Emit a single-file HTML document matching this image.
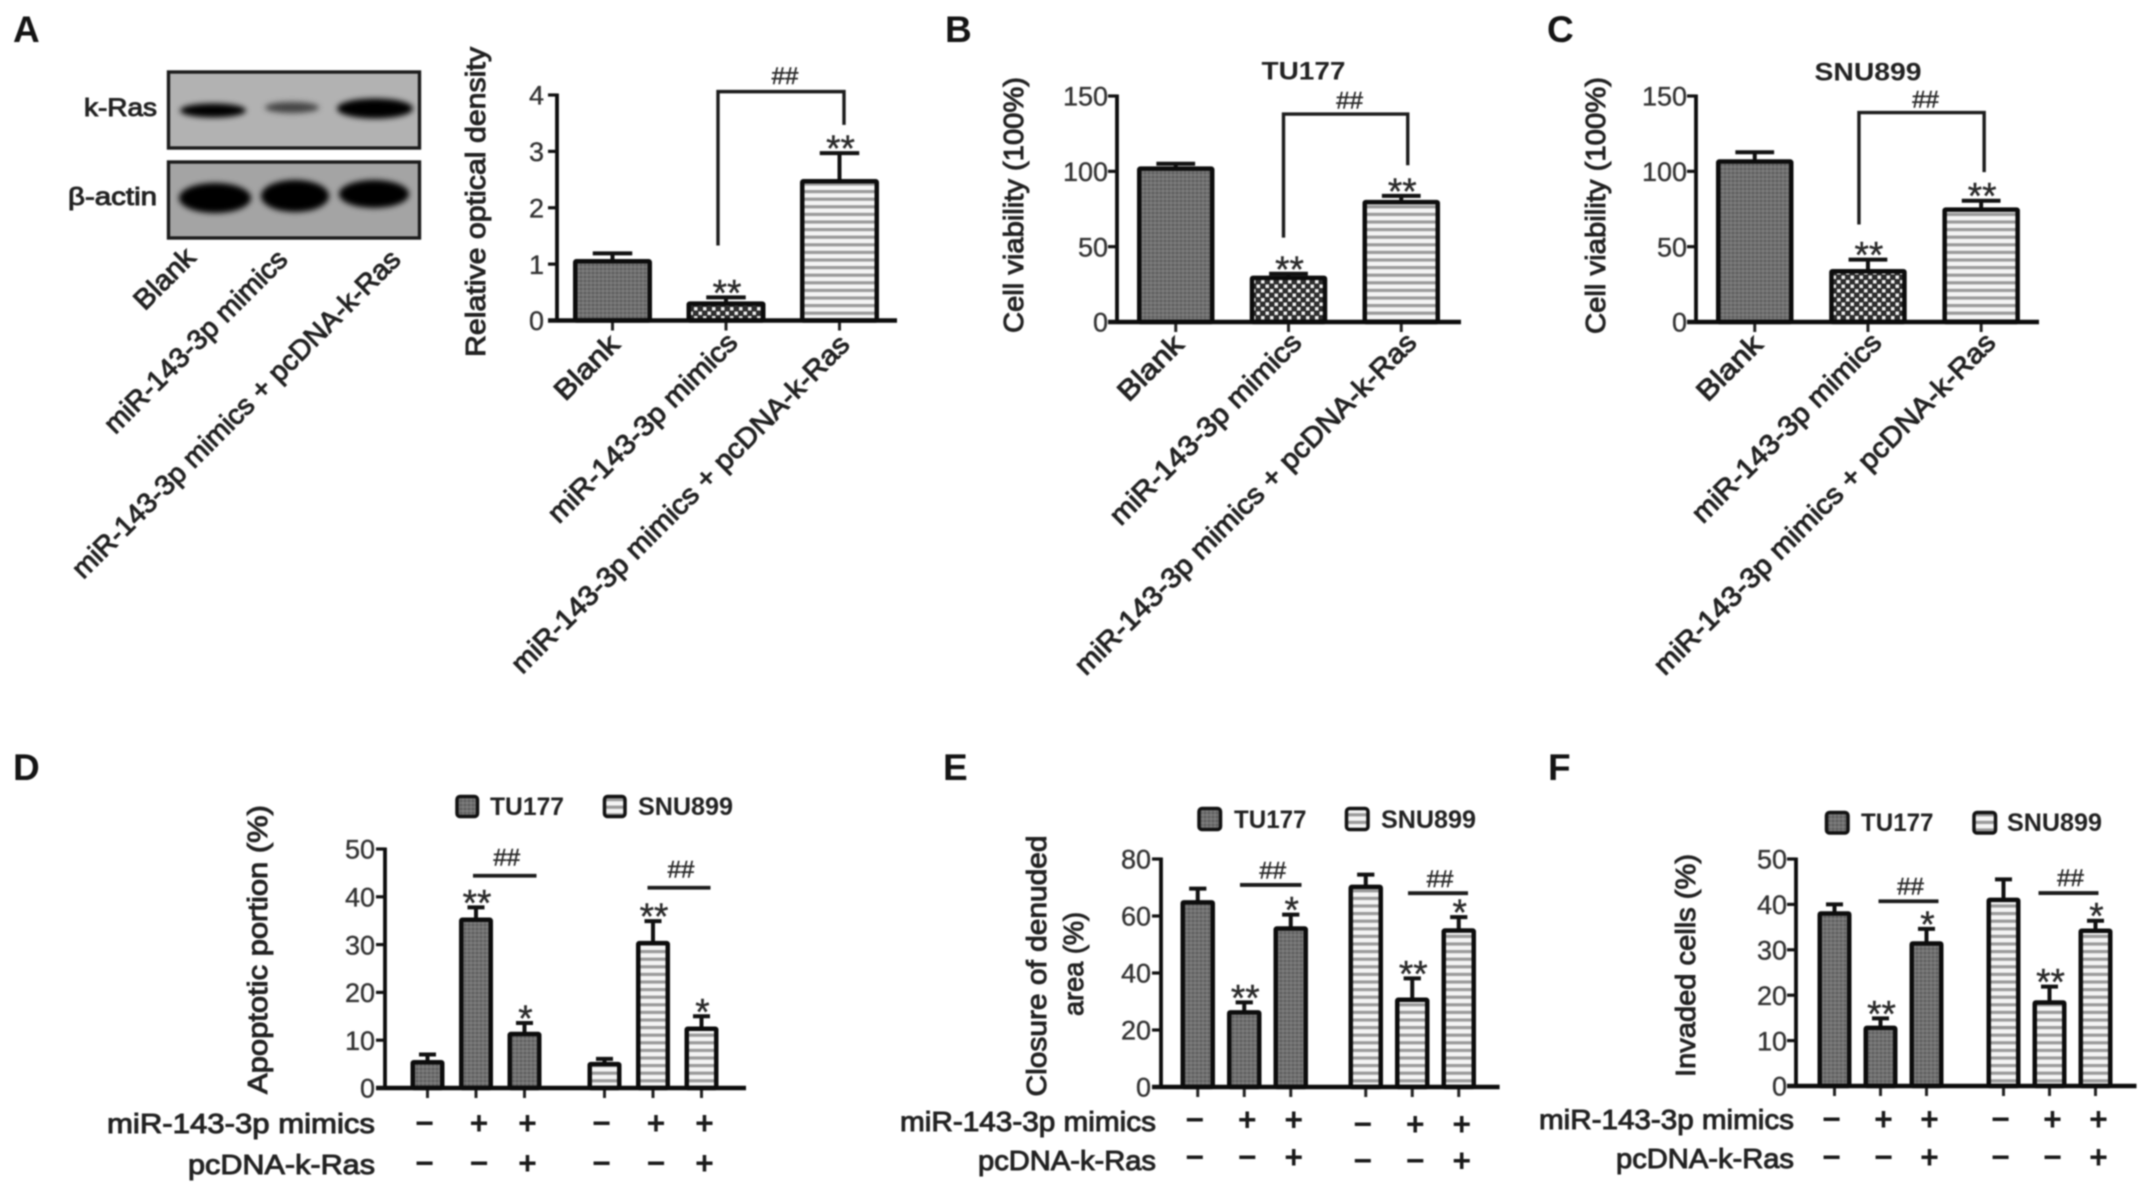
<!DOCTYPE html>
<html lang="en">
<head>
<meta charset="utf-8">
<title>k-Ras rescue figure, panels A to F</title>
<style>
html,body{margin:0;padding:0;background:#fff;}
#figure{display:block;width:2150px;height:1193px;filter:blur(0.8px);font-family:"Liberation Sans",Arial,sans-serif;}
text{font-family:"Liberation Sans",Arial,sans-serif;fill:#222;}
.letter{font-size:37px;font-weight:bold;fill:#141414;}
.lab{font-size:28px;stroke:#222;stroke-width:0.95px;}
.title{font-size:25px;font-weight:bold;}
.tick{font-size:27px;fill:#333;stroke:#333;stroke-width:0.35px;}
.star{font-size:37px;fill:#2a2a2a;stroke:#2a2a2a;stroke-width:0.4px;}
.hash{font-size:24px;fill:#2a2a2a;stroke:#2a2a2a;stroke-width:0.5px;}
.sign{font-size:32px;font-weight:bold;fill:#1a1a1a;}
</style>
</head>
<body>
<svg id="figure" xmlns="http://www.w3.org/2000/svg" width="2150" height="1193" viewBox="0 0 2150 1193">
<defs>
<pattern id="dense" width="4" height="4" patternUnits="userSpaceOnUse">
<rect width="4" height="4" fill="#707070"/><rect width="2" height="2" fill="#5c5c5c"/><rect x="2" y="2" width="2" height="2" fill="#808080"/>
</pattern>
<pattern id="coarse" width="9" height="9" patternUnits="userSpaceOnUse">
<rect width="9" height="9" fill="#2e2e2e"/><rect x="1" y="1" width="3.5" height="3.5" fill="#f2f2f2"/><rect x="5.5" y="5.5" width="3.5" height="3.5" fill="#f2f2f2"/>
</pattern>
<pattern id="stripes" width="8" height="7.6" patternUnits="userSpaceOnUse">
<rect width="8" height="7.6" fill="#f4f4f4"/><rect y="0" width="8" height="3.2" fill="#9a9a9a"/>
</pattern>
<filter id="band-blur" x="-30%" y="-60%" width="160%" height="220%"><feGaussianBlur stdDeviation="3"/></filter>
<clipPath id="blot-top-clip"><rect x="167" y="71" width="254" height="78"/></clipPath>
<clipPath id="blot-bottom-clip"><rect x="167" y="161" width="254" height="78"/></clipPath>
</defs>

<text class="letter" x="13" y="42">A</text>
<text class="letter" x="945" y="42">B</text>
<text class="letter" x="1547" y="42">C</text>
<text class="letter" x="13" y="780">D</text>
<text class="letter" x="943" y="780">E</text>
<text class="letter" x="1548" y="780">F</text>

<g>
<g clip-path="url(#blot-top-clip)">
<rect x="167" y="71" width="254" height="78" fill="#b2b2b2"/>
<ellipse cx="213" cy="110.5" rx="33" ry="7" fill="#000" filter="url(#band-blur)"/>
<ellipse cx="292" cy="107.5" rx="27" ry="5.5" fill="#444" filter="url(#band-blur)"/>
<ellipse cx="375" cy="108.5" rx="38" ry="10" fill="#000" filter="url(#band-blur)"/>
</g>
<rect x="168.5" y="72" width="251" height="76" fill="none" stroke="#1c1c1c" stroke-width="3.4"/>
<g clip-path="url(#blot-bottom-clip)">
<rect x="167" y="161" width="254" height="78" fill="#a4a4a4"/>
<ellipse cx="215" cy="198" rx="36" ry="15" fill="#000" filter="url(#band-blur)"/>
<ellipse cx="295" cy="196" rx="34" ry="16" fill="#000" filter="url(#band-blur)"/>
<ellipse cx="374" cy="194" rx="35" ry="14" fill="#000" filter="url(#band-blur)"/>
</g>
<rect x="168.5" y="162" width="251" height="76" fill="none" stroke="#1c1c1c" stroke-width="3.4"/>
<text class="lab" x="157" y="107" dy=".36em" text-anchor="end" style="font-size:25px" textLength="73" lengthAdjust="spacingAndGlyphs">k-Ras</text>
<text class="lab" x="157" y="196" dy=".36em" text-anchor="end" style="font-size:25px" textLength="89" lengthAdjust="spacingAndGlyphs">β-actin</text>
<text class="lab" transform="translate(190,252) rotate(-45)" dy=".36em" text-anchor="end" textLength="74" lengthAdjust="spacingAndGlyphs">Blank</text>
<text class="lab" transform="translate(282,254) rotate(-45)" dy=".36em" text-anchor="end" textLength="246" lengthAdjust="spacingAndGlyphs">miR-143-3p mimics</text>
<text class="lab" transform="translate(395,254) rotate(-45)" dy=".36em" text-anchor="end" textLength="451" lengthAdjust="spacingAndGlyphs">miR-143-3p mimics + pcDNA-k-Ras</text>
</g>

<g>
<text class="lab" transform="translate(475,202) rotate(-90)" dy=".36em" text-anchor="middle" textLength="310" lengthAdjust="spacingAndGlyphs">Relative optical density</text>
<text class="lab" transform="translate(614,339) rotate(-45)" dy=".36em" text-anchor="end" textLength="79" lengthAdjust="spacingAndGlyphs">Blank</text>
<text class="lab" transform="translate(732,337) rotate(-45)" dy=".36em" text-anchor="end" textLength="255" lengthAdjust="spacingAndGlyphs">miR-143-3p mimics</text>
<text class="lab" transform="translate(844,339) rotate(-45)" dy=".36em" text-anchor="end" textLength="465" lengthAdjust="spacingAndGlyphs">miR-143-3p mimics + pcDNA-k-Ras</text>
</g>

<g>
<text class="title" x="1303.5" y="70.5" dy=".36em" text-anchor="middle" textLength="84" lengthAdjust="spacingAndGlyphs">TU177</text>
<text class="lab" transform="translate(1013,205) rotate(-90)" dy=".36em" text-anchor="middle" textLength="256" lengthAdjust="spacingAndGlyphs">Cell viability (100%)</text>
<text class="lab" transform="translate(1178,339) rotate(-45)" dy=".36em" text-anchor="end" textLength="80" lengthAdjust="spacingAndGlyphs">Blank</text>
<text class="lab" transform="translate(1296,337) rotate(-45)" dy=".36em" text-anchor="end" textLength="258" lengthAdjust="spacingAndGlyphs">miR-143-3p mimics</text>
<text class="lab" transform="translate(1411,337) rotate(-45)" dy=".36em" text-anchor="end" textLength="470" lengthAdjust="spacingAndGlyphs">miR-143-3p mimics + pcDNA-k-Ras</text>
</g>

<g>
<text class="title" x="1868" y="71.4" dy=".36em" text-anchor="middle" textLength="107" lengthAdjust="spacingAndGlyphs">SNU899</text>
<text class="lab" transform="translate(1595,205.5) rotate(-90)" dy=".36em" text-anchor="middle" textLength="257" lengthAdjust="spacingAndGlyphs">Cell viability (100%)</text>
<text class="lab" transform="translate(1757,339) rotate(-45)" dy=".36em" text-anchor="end" textLength="80" lengthAdjust="spacingAndGlyphs">Blank</text>
<text class="lab" transform="translate(1876,337) rotate(-45)" dy=".36em" text-anchor="end" textLength="255" lengthAdjust="spacingAndGlyphs">miR-143-3p mimics</text>
<text class="lab" transform="translate(1990,337) rotate(-45)" dy=".36em" text-anchor="end" textLength="470" lengthAdjust="spacingAndGlyphs">miR-143-3p mimics + pcDNA-k-Ras</text>
</g>

<g>
<text class="lab" transform="translate(257,949.5) rotate(-90)" dy=".36em" text-anchor="middle" textLength="289" lengthAdjust="spacingAndGlyphs">Apoptotic portion (%)</text>
<text class="lab" x="375" y="1123" dy=".36em" text-anchor="end" textLength="268" lengthAdjust="spacingAndGlyphs">miR-143-3p mimics</text>
<text class="lab" x="375" y="1164" dy=".36em" text-anchor="end" textLength="187" lengthAdjust="spacingAndGlyphs">pcDNA-k-Ras</text>
<g>
<rect x="457" y="796.5" width="20.5" height="20" rx="3" fill="url(#dense)" stroke="#111" stroke-width="3.5"/>
<text class="title" x="490" y="806" dy=".36em" textLength="74" lengthAdjust="spacingAndGlyphs">TU177</text>
<rect x="604.5" y="796.5" width="20.5" height="20" rx="3" fill="url(#stripes)" stroke="#111" stroke-width="3.5"/>
<text class="title" x="638" y="806" dy=".36em" textLength="95" lengthAdjust="spacingAndGlyphs">SNU899</text>
</g>
</g>

<g>
<text class="lab" transform="translate(1036,966) rotate(-90)" dy=".36em" text-anchor="middle" textLength="261" lengthAdjust="spacingAndGlyphs">Closure of denuded</text>
<text class="lab" transform="translate(1073,964) rotate(-90)" dy=".36em" text-anchor="middle" textLength="104" lengthAdjust="spacingAndGlyphs">area (%)</text>
<text class="lab" x="1156" y="1120.7" dy=".36em" text-anchor="end" textLength="256" lengthAdjust="spacingAndGlyphs">miR-143-3p mimics</text>
<text class="lab" x="1156" y="1160" dy=".36em" text-anchor="end" textLength="178" lengthAdjust="spacingAndGlyphs">pcDNA-k-Ras</text>
<g>
<rect x="1199" y="808.5" width="21.5" height="21" rx="3" fill="url(#dense)" stroke="#111" stroke-width="3.5"/>
<text class="title" x="1234" y="819" dy=".36em" textLength="72.5" lengthAdjust="spacingAndGlyphs">TU177</text>
<rect x="1346.5" y="808.5" width="21.5" height="21" rx="3" fill="url(#stripes)" stroke="#111" stroke-width="3.5"/>
<text class="title" x="1381" y="819" dy=".36em" textLength="95" lengthAdjust="spacingAndGlyphs">SNU899</text>
</g>
</g>

<g>
<text class="lab" transform="translate(1684.7,965.5) rotate(-90)" dy=".36em" text-anchor="middle" textLength="223" lengthAdjust="spacingAndGlyphs">Invaded cells (%)</text>
<text class="lab" x="1794" y="1119" dy=".36em" text-anchor="end" textLength="255" lengthAdjust="spacingAndGlyphs">miR-143-3p mimics</text>
<text class="lab" x="1794" y="1158" dy=".36em" text-anchor="end" textLength="178" lengthAdjust="spacingAndGlyphs">pcDNA-k-Ras</text>
<g>
<rect x="1826.5" y="812.5" width="21.5" height="20.5" rx="3" fill="url(#dense)" stroke="#111" stroke-width="3.5"/>
<text class="title" x="1861" y="822" dy=".36em" textLength="72.5" lengthAdjust="spacingAndGlyphs">TU177</text>
<rect x="1974" y="812.5" width="21.5" height="20.5" rx="3" fill="url(#stripes)" stroke="#111" stroke-width="3.5"/>
<text class="title" x="2007" y="822" dy=".36em" textLength="95" lengthAdjust="spacingAndGlyphs">SNU899</text>
</g>
</g>

<g id="charts"></g>
</svg>

<script>
// ---- chart values ----
const panelACategories = ['Blank', 'miR-143-3p mimics', 'miR-143-3p mimics + pcDNA-k-Ras'];
const panelAValues = [1.05, 0.30, 2.47];
const panelAErrorTops = [1.19, 0.41, 2.97];
const panelAStars = ['', '**', '**'];
const panelATicks = [0, 1, 2, 3, 4];
const panelABracketLevels = [4.06, 1.33, 3.47];

const panelBCategories = ['Blank', 'miR-143-3p mimics', 'miR-143-3p mimics + pcDNA-k-Ras'];
const panelBValues = [101.8, 29.3, 79.6];
const panelBErrorTops = [105, 32, 83.7];
const panelBStars = ['', '**', '**'];
const panelBTicks = [0, 50, 100, 150];
const panelBBracketLevels = [138, 56, 104];

const panelCCategories = ['Blank', 'miR-143-3p mimics', 'miR-143-3p mimics + pcDNA-k-Ras'];
const panelCValues = [106.5, 33.7, 74.6];
const panelCErrorTops = [112.7, 41.4, 80.5];
const panelCStars = ['', '**', '**'];
const panelCTicks = [0, 50, 100, 150];
const panelCBracketLevels = [139, 64.7, 99.5];

const panelDValues = [5.4, 35.2, 11.3, 5.0, 30.3, 12.4];
const panelDErrorTops = [7, 37.8, 13.6, 6.1, 34.9, 15];
const panelDStars = ['', '**', '*', '', '**', '*'];
const panelDTicks = [0, 10, 20, 30, 40, 50];
const panelDHashLevels = [44.4, 41.9];

const panelEValues = [64.8, 26.2, 55.6, 70.2, 30.6, 54.9];
const panelEErrorTops = [69.6, 29.7, 60.5, 74.5, 38.1, 59.6];
const panelEStars = ['', '**', '*', '', '**', '*'];
const panelETicks = [0, 20, 40, 60, 80];
const panelEHashLevels = [70.9, 68];

const panelFValues = [38, 12.8, 31.4, 41, 18.4, 34.2];
const panelFErrorTops = [40, 14.9, 34.6, 45.5, 21.9, 36.4];
const panelFStars = ['', '**', '*', '', '**', '*'];
const panelFTicks = [0, 10, 20, 30, 40, 50];
const panelFHashLevels = [40.7, 42.5];

const mimicsRowSigns = ['−', '+', '+', '−', '+', '+'];
const pcdnaRowSigns = ['−', '−', '+', '−', '−', '+'];
const threeBarFills = ['dense', 'coarse', 'stripes'];
const sixBarFills = ['dense', 'dense', 'dense', 'stripes', 'stripes', 'stripes'];

// ---- panel layout (axis frames, not data) ----
const panels = [
  {id:'a', values:panelAValues, errs:panelAErrorTops, stars:panelAStars, ticks:panelATicks, fills:threeBarFills,
   bracket:panelABracketLevels, bracketDx:[-8, 4.5], hashDy:-16.5,
   axisX:557, axisEnd:897, y0:320.5, yTop:95, yMax:4, barStart:573, barStep:113.5, barW:79, gap:0, labelGap:13},
  {id:'b', values:panelBValues, errs:panelBErrorTops, stars:panelBStars, ticks:panelBTicks, fills:threeBarFills,
   bracket:panelBBracketLevels, bracketDx:[-5, 6.5], hashDy:-14,
   axisX:1117, axisEnd:1461, y0:322, yTop:96, yMax:150, barStart:1137, barStep:112.75, barW:77.5, gap:0, labelGap:9},
  {id:'c', values:panelCValues, errs:panelCErrorTops, stars:panelCStars, ticks:panelCTicks, fills:threeBarFills,
   bracket:panelCBracketLevels, bracketDx:[-9, 3], hashDy:-13.5,
   axisX:1696, axisEnd:2039, y0:322, yTop:96, yMax:150, barStart:1716, barStep:113.2, barW:77.5, gap:0, labelGap:9},
  {id:'d', values:panelDValues, errs:panelDErrorTops, stars:panelDStars, ticks:panelDTicks, fills:sixBarFills,
   hashLevels:panelDHashLevels, hashInsets:[[1, 2, 14, 5], [4, 5, 11.5, 8]], hashDy:-19,
   axisX:385, axisEnd:746, y0:1088, yTop:849, yMax:50, barStart:410.5, barStep:48.5, barW:34, gap:31.5, labelGap:10,
   rowY:[1124, 1164], rowShift:[0, 0]},
  {id:'e', values:panelEValues, errs:panelEErrorTops, stars:panelEStars, ticks:panelETicks, fills:sixBarFills,
   hashLevels:panelEHashLevels, hashInsets:[[1, 2, 13, 6.5], [4, 5, 13, 8]], hashDy:-15,
   axisX:1161, axisEnd:1499.6, y0:1087, yTop:859, yMax:80, barStart:1180.5, barStep:46.5, barW:34.5, gap:28.5, labelGap:10,
   rowY:[1120.7, 1158], rowShift:[4.3, 3.7]},
  {id:'f', values:panelFValues, errs:panelFErrorTops, stars:panelFStars, ticks:panelFTicks, fills:sixBarFills,
   hashLevels:panelFHashLevels, hashInsets:[[1, 2, 15, 5], [4, 5, 6, 14]], hashDy:-15.5,
   axisX:1796, axisEnd:2136.5, y0:1086, yTop:859, yMax:50, barStart:1817.5, barStep:46, barW:34, gap:31, labelGap:9,
   rowY:[1120, 1158], rowShift:[0, 0]}
];

const SVG_NS = 'http://www.w3.org/2000/svg';
const chartsRoot = document.getElementById('charts');

function make(tag, parent, attrs, content) {
  const node = document.createElementNS(SVG_NS, tag);
  for (const key in attrs) node.setAttribute(key, attrs[key]);
  if (content !== undefined) node.textContent = content;
  parent.appendChild(node);
  return node;
}

function drawPanel(p) {
  const yScale = v => p.y0 - (v / p.yMax) * (p.y0 - p.yTop);
  const barLeft = i => p.barStart + i * p.barStep + (i >= 3 ? p.gap : 0);
  const barCenter = i => barLeft(i) + p.barW / 2;
  let el;

  const g = make('g', chartsRoot, {});
  
  

  // bars with error whiskers
  p.values.forEach((v, i) => {
    const top = yScale(p.errs[i]);
    const mid = barCenter(i);
    el = make('line', g, {x1:mid, x2:mid, y1:yScale(v), y2:top, stroke:'#111', 'stroke-width':4});
    
    
    el = make('line', g, {x1:mid - p.barW / 4, x2:mid + p.barW / 4, y1:top, y2:top, stroke:'#111', 'stroke-width':4});
    
    
    el = make('rect', g, {x:barLeft(i) + 2.25, y:yScale(v), width:p.barW - 4.5, height:p.y0 - yScale(v),
      fill:'url(#' + p.fills[i] + ')', stroke:'#0c0c0c', 'stroke-width':4.5, rx:1});
    
    
    if (p.stars[i]) {
      el = make('text', g, {class:'star', x:mid + 1, y:top + 8, 'text-anchor':'middle'}, p.stars[i]);
      
      
    }
    el = make('line', g, {x1:mid, x2:mid, y1:p.y0, y2:p.y0 + 10, stroke:'#222', 'stroke-width':3});
    
    
  });

  // axes
  el = make('line', g, {x1:p.axisX, x2:p.axisX, y1:p.yTop - 1.5, y2:p.y0, stroke:'#0c0c0c', 'stroke-width':3.8});
  
  
  el = make('line', g, {x1:p.axisX - 9, x2:p.axisEnd, y1:p.y0, y2:p.y0, stroke:'#0c0c0c', 'stroke-width':4.6});
  
  

  p.ticks.forEach(t => {
    el = make('line', g, {x1:p.axisX - 9, x2:p.axisX, y1:yScale(t), y2:yScale(t), stroke:'#111', 'stroke-width':3.2});
    
    
    el = make('text', g, {class:'tick', x:p.axisX - p.labelGap, y:yScale(t), dy:'.36em', 'text-anchor':'end'}, String(t));
    
    
  });

  // three-bar panels: bracket comparison
  if (p.bracket) {
    const lx = barCenter(1) + p.bracketDx[0];
    const rx = barCenter(2) + p.bracketDx[1];
    const ty = yScale(p.bracket[0]);
    const pts = lx + ',' + yScale(p.bracket[1]) + ' ' + lx + ',' + ty + ' ' + rx + ',' + ty + ' ' + rx + ',' + yScale(p.bracket[2]);
    el = make('polyline', g, {points:pts, fill:'none', stroke:'#1c1c1c', 'stroke-width':3.4});
    
    
    el = make('text', g, {class:'hash', x:(lx + rx) / 2 + 4, y:ty + p.hashDy, dy:'.36em', 'text-anchor':'middle'}, '##');
    
    
  }

  // six-bar panels: comparison lines and sign rows
  if (p.hashLevels) {
    p.hashLevels.forEach((lvl, k) => {
      const inset = p.hashInsets[k];
      const x1 = barLeft(inset[0]) + inset[2];
      const x2 = barLeft(inset[1]) + p.barW - inset[3];
      el = make('line', g, {x1:x1, x2:x2, y1:yScale(lvl), y2:yScale(lvl), stroke:'#1c1c1c', 'stroke-width':3.8});
      
      
      el = make('text', g, {class:'hash', x:(x1 + x2) / 2 + 2, y:yScale(lvl) + p.hashDy, dy:'.36em', 'text-anchor':'middle'}, '##');
      
      
    });
    [mimicsRowSigns, pcdnaRowSigns].forEach((row, r) => {
      row.forEach((s, i) => {
        const dx = i % 3 === 0 ? -3 : 3;
        const dy = i >= 3 ? p.rowShift[r] : 0;
        el = make('text', g, {class:'sign', x:barCenter(i) + dx, y:p.rowY[r] + dy + 10, 'text-anchor':'middle'}, s);
        
        
      });
    });
  }
}

panels.forEach(drawPanel);
</script>
</body>
</html>
